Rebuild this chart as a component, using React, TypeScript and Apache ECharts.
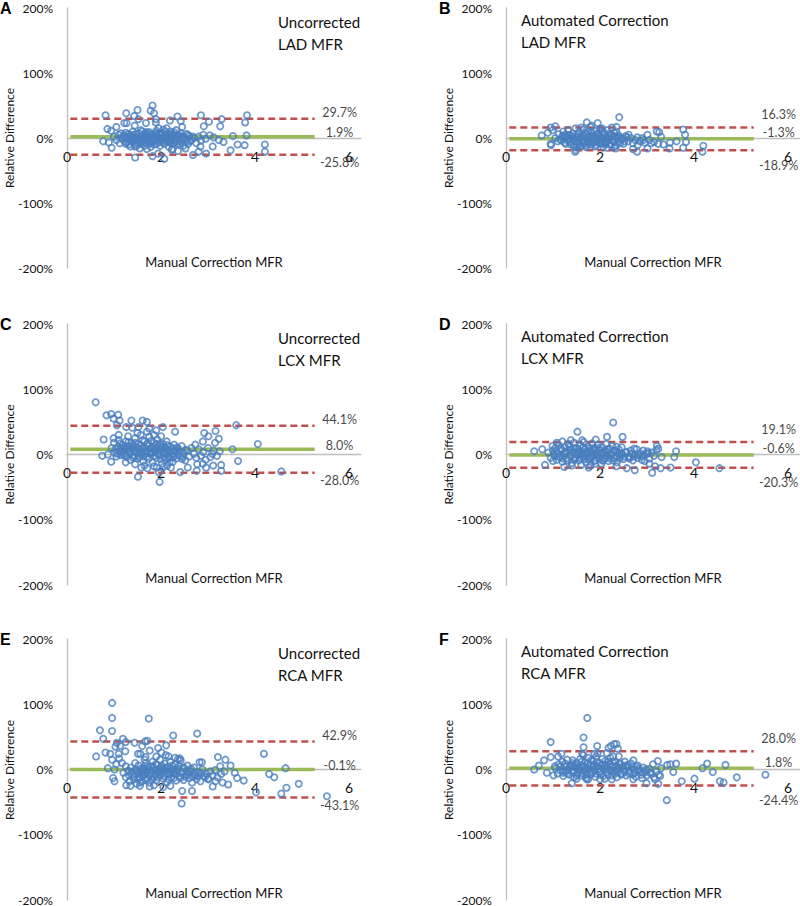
import React, { useEffect, useRef } from "react";
import * as echarts from "echarts";

// ---------- DATA ----------
const panelLetters = ["A", "B", "C", "D", "E", "F"];
const methodTitles = [
  "Uncorrected",
  "Automated Correction",
  "Uncorrected",
  "Automated Correction",
  "Uncorrected",
  "Automated Correction",
];
const vesselTitles = ["LAD MFR", "LAD MFR", "LCX MFR", "LCX MFR", "RCA MFR", "RCA MFR"];
const meanBias = [1.9, -1.3, 8.0, -0.6, -0.1, 1.8];
const upperLoA = [29.7, 16.3, 44.1, 19.1, 42.9, 28.0];
const lowerLoA = [-25.8, -18.9, -28.0, -20.3, -43.1, -24.4];
const lineXRange = [0.07, 5.27];
const labelX = 5.8;
const xAxisTitle = "Manual Correction MFR";
const yAxisTitle = "Relative Difference";

const ladUncorrected = [
  [0.82, 35], [0.86, 14], [0.94, 11], [1.05, 17], [0.77, -5], [0.89, -7], [0.95, -15],
  [1.26, 38], [1.22, 23], [1.27, 23], [1.43, 34], [1.5, 43], [1.44, 19], [1.52, 29],
  [1.45, -30], [1.45, -13], [1.82, 50], [1.78, 42], [1.85, 38], [1.89, 29], [1.89, 24],
  [1.68, 23], [1.82, -28], [2.07, -32], [1.94, -24], [2.19, 27], [2.35, 33], [2.42, 26],
  [2.45, 17], [2.54, 6], [2.85, 35], [2.91, 18], [3.02, 25], [3.29, 29], [3.26, 18],
  [3.83, 35], [3.79, 24], [3.82, 4], [3.53, 3], [3.33, -6], [3.48, -19], [3.63, -10],
  [3.78, -11], [4.21, -10], [4.21, -21], [2.68, -26], [2.8, -21], [2.96, -24], [2.84, -13],
  [3.1, -13], [3.04, 4], [3.12, 1], [3.23, -3], [2.36, -20], [2.23, -18], [2.52, -16],
  [1.0, 2], [1.05, -3], [1.1, 5], [1.12, -8], [1.15, 0], [1.2, 3], [1.22, -5], [1.25, 8],
  [1.28, -2], [1.3, 1], [1.32, -10], [1.35, 4], [1.38, -6], [1.4, 10], [1.42, 0], [1.45, -4],
  [1.47, 6], [1.5, -8], [1.52, 2], [1.55, -1], [1.57, 12], [1.6, -5], [1.62, 3], [1.65, -12],
  [1.67, 7], [1.7, 0], [1.72, -3], [1.75, 9], [1.77, -7], [1.8, 1], [1.82, 5], [1.85, -10],
  [1.87, -2], [1.9, 11], [1.92, 3], [1.95, -6], [1.97, 0], [2.0, 8], [2.02, -4], [2.05, 13],
  [2.07, -9], [2.1, 2], [2.12, -1], [2.15, 6], [2.17, -14], [2.2, 10], [2.22, -3], [2.25, 4],
  [2.27, -7], [2.3, 0], [2.32, 12], [2.35, -5], [2.37, 3], [2.4, -10], [2.42, 7], [2.45, -2],
  [2.5, 1], [2.55, -6], [2.6, 3], [2.65, -3], [2.7, 0], [2.75, -8], [2.8, 2], [2.85, -4],
  [2.9, 5], [2.95, -1], [1.48, -12], [1.58, -9], [1.68, 4], [1.78, -14], [1.88, 7], [1.98, -12],
  [2.08, 5], [2.18, -6], [2.28, 9], [2.38, -1], [1.35, -13], [1.25, -9], [1.15, 7], [1.95, 15],
  [2.12, 15], [1.7, -17], [1.55, -16], [2.25, -17], [1.4, -3], [1.6, 10], [1.83, -5], [2.03, 0],
  [2.48, -12], [2.58, -9],
  [1.18, -1], [1.23, 4], [1.27, -6], [1.31, 6], [1.36, -1], [1.41, 5], [1.44, -9], [1.46, 1],
  [1.51, -3], [1.53, 7], [1.56, -7], [1.59, 2], [1.61, -2], [1.64, 6], [1.66, -6], [1.69, 9],
  [1.71, -9], [1.74, 3], [1.76, -4], [1.79, 6], [1.81, -8], [1.84, 2], [1.86, -4], [1.89, 4],
  [1.91, -9], [1.94, 1], [1.96, 8], [1.99, -3], [2.01, 4], [2.04, -7], [2.06, 1], [2.09, 10],
  [2.11, -5], [2.14, 3], [2.16, -2], [2.19, 1], [2.21, -8], [2.24, 7], [2.26, -1], [2.29, -4],
  [2.31, 5], [2.34, -9], [2.36, 1], [2.39, 4], [2.43, -6], [2.47, 2], [2.52, -3], [2.57, 5],
  [2.62, -5], [2.68, 2],
];

const ladAutomated = [
  [0.76, 4], [0.95, 16], [0.99, 12], [1.05, 18], [0.95, -9], [1.49, -19], [1.57, -12],
  [1.72, 24], [1.82, 19], [1.95, 23], [2.04, 15], [2.41, 32], [2.35, 17], [2.33, -16],
  [2.7, -17], [2.79, -21], [3.01, -16], [3.01, 5], [3.21, 10], [3.26, 9], [3.3, 2],
  [3.24, -9], [3.35, -10], [3.48, -16], [3.49, -7], [3.63, -5], [3.77, 13], [3.81, 5],
  [3.83, -6], [3.77, -15], [4.2, -12], [4.18, -21], [2.79, 1], [2.92, -3], [3.09, -8],
  [2.61, 5], [0.89, 8], [0.96, -11], [1.47, -21], [1.5, -14],
  [1.05, 0], [1.1, -5], [1.12, 6], [1.15, -2], [1.2, 3], [1.22, 10], [1.25, -7], [1.28, 1],
  [1.3, -3], [1.32, 12], [1.35, 5], [1.38, -10], [1.4, 0], [1.42, 7], [1.45, -4], [1.48, 15],
  [1.5, 2], [1.52, -8], [1.55, 9], [1.57, -1], [1.6, 4], [1.62, -12], [1.65, 13], [1.67, -5],
  [1.7, 6], [1.72, -2], [1.75, 10], [1.77, -9], [1.8, 1], [1.82, 8], [1.85, -6], [1.87, 3],
  [1.9, -13], [1.92, 11], [1.95, -3], [1.97, 5], [2.0, -8], [2.02, 0], [2.05, 9], [2.07, -14],
  [2.1, 4], [2.12, -6], [2.15, 12], [2.17, -1], [2.2, 6], [2.22, -10], [2.25, 2], [2.27, -4],
  [2.3, 8], [2.32, -13], [2.35, 1], [2.38, -7], [2.4, 4], [2.45, -2], [2.5, -9], [2.55, 3],
  [2.6, -5], [2.65, 0], [2.7, -8], [2.75, -3], [2.8, -11], [2.85, -5], [2.9, 0], [2.95, -7],
  [3.05, -3], [3.15, -6], [1.6, 16], [1.8, 17], [2.0, 14], [2.25, 16], [1.45, -14], [1.7, -14],
  [2.15, -15], [1.55, -6], [1.75, 2], [1.95, 7], [2.05, -4], [1.35, -2], [1.25, 5], [2.35, 10],
  [1.9, -7], [2.12, -9],
  [1.18, -4], [1.23, 2], [1.27, -9], [1.31, 4], [1.36, -6], [1.41, 3], [1.44, -11], [1.46, -1],
  [1.51, -5], [1.53, 5], [1.56, -9], [1.59, 0], [1.61, -4], [1.64, 4], [1.66, -8], [1.69, 7],
  [1.71, -11], [1.74, 1], [1.76, -6], [1.79, 4], [1.81, -10], [1.84, 0], [1.86, -6], [1.89, 2],
  [1.91, -11], [1.94, -1], [1.96, 6], [1.99, -5], [2.01, 2], [2.04, -9], [2.06, -1], [2.09, 8],
  [2.11, -7], [2.14, 1], [2.16, -4], [2.19, -1], [2.21, -10], [2.24, 5], [2.26, -3], [2.29, -6],
  [2.31, 3], [2.34, -11], [2.36, -1], [2.39, 2], [2.43, -8], [2.47, 0], [2.52, -5], [2.57, 1],
];

const lcxUncorrected = [
  [0.61, 80], [0.84, 60], [0.94, 62], [0.99, 55], [1.09, 61], [1.12, 52], [1.06, 45],
  [1.26, 42], [1.37, 52], [1.39, 41], [1.52, 42], [1.61, 52], [1.7, 50], [1.75, 40],
  [2.04, 42], [1.9, 37], [2.3, 35], [0.78, 23], [0.75, -2], [0.87, 0], [0.94, -11],
  [0.99, 25], [1.51, -34], [1.58, -20], [1.71, -21], [1.97, -42], [1.91, -20], [1.95, -27],
  [2.21, -20], [2.41, -27], [2.57, -20], [2.76, -25], [2.92, 33], [3.01, 28], [3.16, 36],
  [3.15, 18], [3.23, 24], [2.89, 20], [2.73, 15], [2.77, -15], [2.89, -14], [2.96, -20],
  [3.11, -17], [3.28, -16], [3.28, -25], [3.25, 5], [3.19, -2], [3.09, 1], [3.52, 8],
  [3.6, 45], [3.64, -10], [4.06, 16], [4.56, -26], [2.52, 7], [2.34, 11], [2.45, -7],
  [2.27, -4], [2.13, -17],
  [0.95, 10], [1.0, 18], [1.02, 3], [1.05, -3], [1.08, 12], [1.1, 22], [1.12, 6], [1.15, -1],
  [1.18, 15], [1.2, 0], [1.22, 9], [1.25, 20], [1.27, -4], [1.3, 13], [1.32, 4], [1.35, -8],
  [1.37, 18], [1.4, 8], [1.42, -2], [1.45, 25], [1.47, 11], [1.5, -6], [1.52, 16], [1.55, 2],
  [1.57, 30], [1.6, 9], [1.62, -10], [1.65, 20], [1.67, 5], [1.7, -3], [1.72, 14], [1.75, 27],
  [1.77, 1], [1.8, 10], [1.82, -12], [1.85, 18], [1.87, 6], [1.9, -5], [1.92, 23], [1.95, 12],
  [1.97, -1], [2.0, 8], [2.02, -14], [2.05, 16], [2.07, 3], [2.1, -8], [2.12, 20], [2.15, 7],
  [2.17, -3], [2.2, 12], [2.22, 0], [2.25, -11], [2.28, 15], [2.3, 5], [2.33, -6], [2.36, 9],
  [2.4, -2], [2.44, 13], [2.48, 2], [2.52, -9], [2.56, 6], [2.6, -3], [2.65, 10], [2.7, 1],
  [2.75, -5], [2.8, 8], [2.85, -2], [2.9, 4], [2.95, -8], [3.0, 10], [3.05, -4], [3.12, 6],
  [1.1, 30], [1.3, 28], [1.5, 33], [1.7, 35], [1.85, 30], [2.0, 28], [1.25, -12], [1.45, -15],
  [1.65, -17], [1.85, -18], [2.05, -19], [1.4, 14], [1.6, 1], [1.8, 4], [1.98, 16], [2.18, -12],
  [1.15, 10], [1.33, 7], [1.53, -1],
  [1.03, 8], [1.07, 1], [1.13, 17], [1.17, 4], [1.21, 12], [1.24, -1], [1.28, 8], [1.31, 19],
  [1.34, 1], [1.38, 11], [1.41, -5], [1.44, 6], [1.46, 18], [1.49, 3], [1.51, 10], [1.54, -4],
  [1.56, 14], [1.59, 5], [1.61, 22], [1.63, -3], [1.66, 10], [1.69, 2], [1.71, 17], [1.74, -6],
  [1.76, 8], [1.79, 21], [1.81, 3], [1.84, 12], [1.86, -2], [1.89, 9], [1.91, 16], [1.94, 0],
  [1.96, 6], [1.99, -7], [2.01, 12], [2.04, 4], [2.06, -4], [2.09, 9], [2.11, 1], [2.14, 14],
  [2.16, -6], [2.19, 5], [2.23, 9], [2.26, -2], [2.31, 7], [2.35, 0], [2.39, 5], [2.46, -4],
];

const lcxAutomated = [
  [0.6, 5], [0.77, 8], [0.83, -16], [1.08, 18], [0.99, 13], [1.24, -19], [1.38, 22],
  [1.52, 35], [1.62, 22], [1.76, -20], [1.91, 23], [1.9, -14], [2.15, 27], [2.28, 49],
  [2.48, 27], [2.35, -18], [2.57, -21], [2.74, -24], [2.73, 9], [2.78, 8], [2.92, 6],
  [3.01, 5], [3.11, -28], [3.17, -18], [3.29, -21], [3.21, 13], [3.24, 9], [3.31, -4],
  [3.5, -20], [3.58, -4], [3.62, 5], [4.04, -12], [4.54, -21], [3.05, -14], [2.89, -8],
  [2.41, 1], [2.64, -4],
  [0.9, 3], [0.95, -5], [1.0, 6], [1.03, -2], [1.05, 10], [1.08, -8], [1.1, 2], [1.13, 14],
  [1.15, -4], [1.18, 7], [1.2, -11], [1.23, 1], [1.25, 11], [1.28, -6], [1.3, 4], [1.33, 16],
  [1.35, -2], [1.38, 8], [1.4, -13], [1.43, 3], [1.45, 18], [1.48, -5], [1.5, 10], [1.53, 0],
  [1.55, -9], [1.58, 14], [1.6, 5], [1.63, -3], [1.65, 19], [1.68, 8], [1.7, -12], [1.73, 2],
  [1.75, 12], [1.78, -6], [1.8, 6], [1.83, 17], [1.85, -2], [1.88, 10], [1.9, -9], [1.93, 3],
  [1.95, 15], [1.98, -4], [2.0, 7], [2.03, -14], [2.05, 11], [2.08, 1], [2.1, -6], [2.13, 16],
  [2.15, 4], [2.18, -10], [2.2, 9], [2.23, -1], [2.26, 13], [2.3, -5], [2.33, 5], [2.36, -12],
  [2.4, 8], [2.43, -2], [2.46, 11], [2.5, -7], [2.55, 3], [2.6, -4], [2.65, 6], [2.7, -9],
  [2.75, 0], [2.8, -5], [2.85, 2], [2.9, -3], [2.95, -10], [3.0, 1], [3.05, -6], [3.1, 3],
  [3.15, -2], [3.2, 7], [1.2, 20], [1.4, -17], [1.6, -16], [1.8, -17], [1.0, -10], [1.35, 12],
  [1.55, 4], [1.75, -8], [1.95, 0], [2.15, -3], [2.35, 12], [1.45, -8], [1.65, 0], [1.85, 8],
  [2.05, -9],
  [1.02, 1], [1.07, 5], [1.12, -3], [1.17, 9], [1.21, -6], [1.26, 4], [1.31, -9], [1.36, 6],
  [1.41, -1], [1.44, 10], [1.47, -7], [1.51, 3], [1.54, 8], [1.57, -5], [1.61, 1], [1.64, 11],
  [1.67, -7], [1.71, 4], [1.74, -2], [1.77, 9], [1.81, -4], [1.84, 3], [1.87, -10], [1.91, 7],
  [1.94, -1], [1.97, 10], [2.01, -5], [2.04, 3], [2.07, -9], [2.11, 6], [2.14, -2], [2.17, 8],
  [2.21, -6], [2.24, 2], [2.28, -9], [2.31, 6], [2.35, -3], [2.38, 3], [2.42, -6], [2.47, 1],
  [2.52, -3], [2.57, 4], [2.62, -6], [2.68, 1], [2.72, -3], [2.83, -1], [2.93, 0], [3.03, 2],
];

const rcaUncorrected = [
  [0.62, 20], [0.7, 60], [0.77, 47], [0.82, 26], [0.87, 2], [0.96, 102], [0.96, 79],
  [0.96, 59], [0.92, 24], [0.96, 15], [0.98, -13], [1.01, -18], [1.01, 0], [1.03, 35],
  [1.06, 41], [1.1, 24], [1.05, 8], [1.19, 47], [1.25, 42], [1.13, 36], [1.24, 28],
  [1.11, 17], [1.17, 10], [1.25, 5], [1.26, -24], [1.44, 41], [1.6, 36], [1.66, 43],
  [1.71, 44], [1.74, 78], [1.51, 24], [1.56, 24], [1.76, 29], [1.67, 19], [1.94, 33],
  [2.01, 26], [2.11, 37], [2.26, 52], [2.77, 55], [2.16, 20], [2.36, 16], [2.45, -33],
  [2.44, -52], [2.66, -33], [2.82, 11], [2.87, 11], [3.01, -15], [3.1, -26], [3.21, 19],
  [3.37, 15], [3.48, 6], [3.43, -23], [3.62, -13], [3.76, -17], [3.26, 5], [3.31, -20],
  [3.16, -18], [3.57, -5], [4.02, -35], [4.19, 24], [4.3, -7], [4.41, -12], [4.56, -37],
  [4.67, -28], [4.65, 2], [4.93, -22], [5.53, -41], [1.76, -26], [1.56, -20],
  [1.2, -5], [1.25, -12], [1.3, -2], [1.33, -18], [1.36, 3], [1.4, -8], [1.42, -15], [1.45, 0],
  [1.48, -22], [1.5, -5], [1.52, 6], [1.55, -12], [1.58, -3], [1.6, -18], [1.62, 2], [1.65, -8],
  [1.68, 10], [1.7, -14], [1.72, -1], [1.75, -20], [1.78, 5], [1.8, -6], [1.82, 12], [1.85, -11],
  [1.88, 0], [1.9, -17], [1.92, 7], [1.95, -4], [1.98, 15], [2.0, -9], [2.02, 2], [2.05, -14],
  [2.08, 9], [2.1, -2], [2.12, -20], [2.15, 4], [2.18, -7], [2.2, 12], [2.22, -12], [2.25, 1],
  [2.28, -5], [2.3, 8], [2.32, -17], [2.35, -1], [2.38, 5], [2.4, -10], [2.42, 14], [2.45, -4],
  [2.48, -16], [2.5, 2], [2.53, -8], [2.56, 6], [2.6, -13], [2.63, -2], [2.66, -20], [2.7, 3],
  [2.73, -9], [2.76, -15], [2.8, -4], [2.84, -18], [2.88, 0], [2.92, -10], [2.96, -6], [3.0, -14],
  [3.05, -3], [3.1, -9], [3.15, -1], [3.2, -12], [3.28, -7], [3.35, -3], [1.35, -25], [1.55, -25],
  [1.85, -24], [2.05, -27], [2.2, -25], [1.45, 10], [1.65, 15], [1.9, 20], [2.1, 22], [2.3, 18],
  [2.4, 17], [1.7, 5], [2.0, 0], [2.27, -6], [1.6, -5],
  [1.32, -9], [1.38, -4], [1.43, -11], [1.47, -2], [1.51, -14], [1.54, -7], [1.57, 1], [1.61, -10],
  [1.64, -1], [1.67, -16], [1.69, -5], [1.73, 3], [1.76, -9], [1.79, -2], [1.81, -15], [1.84, 4],
  [1.87, -7], [1.89, 8], [1.93, -12], [1.96, -1], [1.99, -6], [2.01, 6], [2.04, -4], [2.07, -10],
  [2.09, 3], [2.13, -7], [2.16, -15], [2.19, 0], [2.21, -4], [2.24, 6], [2.27, -13], [2.29, -1],
  [2.33, -7], [2.37, 1], [2.41, -13], [2.44, -6], [2.47, 3], [2.52, -11], [2.55, -3], [2.59, -8],
  [2.64, 1], [2.68, -11], [2.72, -5], [2.78, -10], [2.86, -6], [2.94, -12],
];

const rcaAutomated = [
  [0.6, 0], [0.7, 6], [0.81, 14], [0.87, -5], [0.95, 42], [0.95, 19], [1.01, -9], [1.11, 20],
  [1.18, 24], [1.04, 5], [1.22, -5], [1.4, -21], [1.62, 24], [1.65, 49], [1.65, 34], [1.73, 79],
  [1.72, -15], [1.94, 36], [1.88, 24], [2.23, 36], [2.3, 39], [2.35, 39], [2.38, 32], [2.18, 33],
  [2.28, 20], [2.71, 14], [2.78, 4], [2.99, -21], [3.13, 8], [3.23, 13], [3.24, -22], [3.42, -47],
  [3.28, -10], [3.43, 7], [3.5, 8], [3.62, 9], [3.56, -4], [3.74, -18], [4.01, -14], [4.18, 2],
  [4.28, 9], [4.4, -4], [4.55, -18], [4.63, -20], [4.67, 7], [4.91, -12], [5.52, -8],
  [2.71, -15], [2.89, -13], [3.06, -5], [3.17, -15],
  [1.05, 2], [1.1, -6], [1.12, 8], [1.15, -1], [1.2, 12], [1.22, -10], [1.25, 4], [1.28, -3],
  [1.3, 15], [1.33, 0], [1.35, -8], [1.38, 7], [1.4, -2], [1.42, 14], [1.45, -12], [1.48, 3],
  [1.5, 10], [1.52, -5], [1.55, 1], [1.58, 16], [1.6, -9], [1.62, 6], [1.65, -2], [1.68, 11],
  [1.7, -13], [1.72, 3], [1.75, 18], [1.78, -4], [1.8, 8], [1.82, -7], [1.85, 13], [1.88, 0],
  [1.9, -11], [1.92, 20], [1.95, 5], [1.98, -3], [2.0, 10], [2.02, -8], [2.05, 16], [2.08, 1],
  [2.1, -14], [2.12, 7], [2.15, -4], [2.18, 12], [2.2, -1], [2.22, 18], [2.25, -9], [2.28, 5],
  [2.3, -3], [2.33, 11], [2.36, -12], [2.4, 3], [2.43, 8], [2.46, -6], [2.5, 1], [2.53, 12],
  [2.56, -9], [2.6, 4], [2.63, -3], [2.66, 9], [2.7, -7], [2.73, 0], [2.76, -11], [2.8, 6],
  [2.84, -2], [2.88, -8], [2.92, 3], [2.96, -4], [3.0, -9], [3.05, 1], [3.1, -6], [3.15, -12],
  [3.2, -3], [3.25, -8], [3.3, 2], [1.5, -14], [1.75, -15], [2.0, -15], [2.25, -15], [1.65, 22],
  [1.95, 25], [2.15, 25], [2.4, 20], [1.4, 5], [1.7, 0], [1.85, 3], [2.1, 6], [2.35, 0], [2.55, 5],
  [1.17, 5], [1.21, -2], [1.26, 9], [1.31, -6], [1.36, 3], [1.41, 10], [1.44, -4], [1.47, 7],
  [1.51, -9], [1.54, 4], [1.57, -2], [1.61, 12], [1.64, -6], [1.67, 5], [1.71, -8], [1.74, 9],
  [1.77, 0], [1.81, 14], [1.84, -4], [1.87, 7], [1.91, -6], [1.94, 11], [1.97, 1], [2.01, -4],
  [2.04, 7], [2.07, -10], [2.11, 13], [2.14, 2], [2.17, -8], [2.21, 8], [2.24, -3], [2.27, 12],
  [2.31, -7], [2.34, 5], [2.38, -4], [2.42, 10], [2.45, -8], [2.49, 5], [2.52, -4], [2.58, 7],
  [2.62, -6], [2.68, 3], [2.74, -5], [2.82, 1], [2.9, -5], [2.98, 0],
];

const panelData = [ladUncorrected, ladAutomated, lcxUncorrected, lcxAutomated, rcaUncorrected, rcaAutomated];

// ---------- LAYOUT ----------
const rowTop = [8, 324, 639];
const rowHeight = [260, 261, 262];
const colLeft = [67, 506];
const gridWidth = 293.75;
const FONT = "Lato, 'Open Sans', sans-serif";

export default function App() {
  const ref = useRef<HTMLDivElement>(null);

  useEffect(() => {
    if (!ref.current) return;
    const chart = echarts.init(ref.current, undefined, { renderer: "svg" });

    const grids: any[] = [];
    const xAxes: any[] = [];
    const yAxes: any[] = [];
    const series: any[] = [];
    const graphics: any[] = [];

    for (let i = 0; i < 6; i++) {
      const row = Math.floor(i / 2);
      const col = i % 2;
      const top = rowTop[row];
      const h = rowHeight[row];
      const left = colLeft[col];
      grids.push({ left, top, width: gridWidth, height: h, containLabel: false });
      xAxes.push({
        gridIndex: i,
        type: "value",
        position: "bottom",
        offset: -h / 2,
        min: 0,
        max: 6.25,
        interval: 2,
        axisLine: { show: true, onZero: false, lineStyle: { color: "#bfbfbf", width: 1.3 } },
        axisTick: { show: false },
        splitLine: { show: false },
        axisLabel: {
          fontFamily: FONT,
          fontSize: 14,
          color: "#111",
          margin: 11,
          showMaxLabel: false,
          formatter: (v: number) => (v % 2 === 0 ? String(v) : ""),
        },
      });
      yAxes.push({
        gridIndex: i,
        type: "value",
        min: -200,
        max: 200,
        interval: 100,
        axisLine: { show: true, onZero: false, lineStyle: { color: "#bfbfbf", width: 1.3 } },
        axisTick: { show: false },
        splitLine: { show: false },
        axisLabel: {
          fontFamily: FONT,
          fontSize: 12,
          color: "#111",
          margin: 14,
          formatter: (v: number) => `${v}%`,
        },
      });

      const lineData = (v: number) => [[lineXRange[0], v], [lineXRange[1], v]];
      series.push({
        type: "line",
        xAxisIndex: i,
        yAxisIndex: i,
        data: lineData(meanBias[i]),
        symbol: "none",
        z: 1,
        lineStyle: { color: "#9bbb59", width: 3.5 },
      });
      [upperLoA[i], lowerLoA[i]].forEach((v) => {
        series.push({
          type: "line",
          xAxisIndex: i,
          yAxisIndex: i,
          data: lineData(v),
          symbol: "none",
          z: 1,
          lineStyle: { color: "#c0504d", width: 2.5, type: [7, 4] },
        });
      });
      series.push({
        type: "scatter",
        xAxisIndex: i,
        yAxisIndex: i,
        data: panelData[i],
        symbol: "circle",
        symbolSize: 6.3,
        z: 3,
        itemStyle: { color: "rgba(255,255,255,0)", borderColor: "#4a7ebf", borderWidth: 1.8 },
      });
      const offs = col === 0 ? [-6, -4, 8] : [-13, -6, 15];
      const vals = [upperLoA[i], meanBias[i], lowerLoA[i]];
      series.push({
        type: "scatter",
        xAxisIndex: i,
        yAxisIndex: i,
        symbolSize: 0,
        z: 4,
        data: vals.map((v, k) => ({
          value: [labelX, v],
          label: { offset: [0, offs[k]] },
        })),
        label: {
          show: true,
          position: "inside",
          fontFamily: FONT,
          fontSize: 12.5,
          color: "#111",
          formatter: (p: any) => `${p.value[1].toFixed(1)}%`,
        },
      });

      // texts
      graphics.push({
        type: "text",
        x: left - 67,
        y: top,
        style: {
          text: panelLetters[i],
          font: "bold 16px 'Liberation Sans', Arial, sans-serif",
          fill: "#000",
          verticalAlign: "middle",
          align: "left",
        },
      });
      const tx = col === 0 ? left + 211 : left + 15;
      const ty1 = col === 0 ? top + 14 : top + 11.5;
      const ty2 = col === 0 ? top + 35.5 : top + 34;
      graphics.push({
        type: "text",
        x: tx,
        y: ty1,
        style: { text: methodTitles[i], font: `15px ${FONT}`, fill: "#111", verticalAlign: "middle" },
      });
      graphics.push({
        type: "text",
        x: tx,
        y: ty2,
        style: { text: vesselTitles[i], font: `15px ${FONT}`, fill: "#111", verticalAlign: "middle" },
      });
      graphics.push({
        type: "text",
        x: left - 58,
        y: top + h / 2,
        rotation: Math.PI / 2,
        style: {
          text: yAxisTitle,
          font: `12px ${FONT}`,
          fill: "#111",
          align: "center",
          verticalAlign: "middle",
        },
      });
      graphics.push({
        type: "text",
        x: left + 147,
        y: top + 254,
        style: {
          text: xAxisTitle,
          font: `13px ${FONT}`,
          fill: "#111",
          align: "center",
          verticalAlign: "middle",
        },
      });
    }

    chart.setOption({
      animation: false,
      backgroundColor: "#fff",
      grid: grids,
      xAxis: xAxes,
      yAxis: yAxes,
      series,
      graphic: graphics,
    });
    return () => chart.dispose();
  }, []);

  return (
    <div
      ref={ref}
      style={{ position: "absolute", left: 0, top: 0, width: 800, height: 906 }}
    />
  );
}
